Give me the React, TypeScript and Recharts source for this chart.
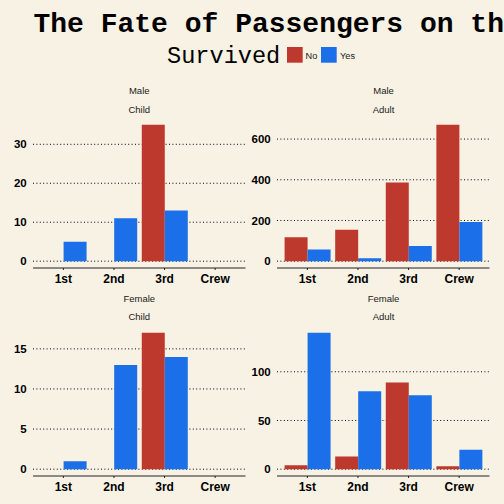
import React from 'react';
import { BarChart, Bar, XAxis, YAxis, CartesianGrid } from 'recharts';

const classes = ['1st', '2nd', '3rd', 'Crew'];
const survivedLabels = ['No', 'Yes'];
const survivedColors = ['#BE392D', '#1B6FE8'];

const maleChildNo = [0, 0, 35, 0];
const maleChildYes = [5, 11, 13, 0];
const maleAdultNo = [118, 154, 387, 670];
const maleAdultYes = [57, 14, 75, 192];
const femaleChildNo = [0, 0, 17, 0];
const femaleChildYes = [1, 13, 14, 0];
const femaleAdultNo = [4, 13, 89, 3];
const femaleAdultYes = [140, 80, 76, 20];

const maleChildTicks = [0, 10, 20, 30];
const maleAdultTicks = [0, 200, 400, 600];
const femaleChildTicks = [0, 5, 10, 15];
const femaleAdultTicks = [0, 50, 100];

const BG = '#F8F2E4';
const SANS = '"Liberation Sans", Arial, Helvetica, sans-serif';
const MONO = '"Liberation Mono", "Courier New", monospace';

const PLOT_W = 212.5;
const PLOT_H = 150;
const Y_AXIS_W = 33;
const X_AXIS_H = 25;

const buildRows = (no: number[], yes: number[]) =>
  classes.map((c, i) => ({ cls: c, No: no[i], Yes: yes[i] }));

// ggplot style 5% expansion of the y range
const expanded = (no: number[], yes: number[]): [number, number] => {
  const max = Math.max(...no, ...yes);
  return [-max * 0.05, max * 1.05];
};

interface PanelProps {
  left: number;
  top: number;
  no: number[];
  yes: number[];
  ticks: number[];
}

const Panel: React.FC<PanelProps> = ({ left, top, no, yes, ticks }) => {
  const data = buildRows(no, yes);
  const band = PLOT_W / 4.2;
  const [lo, hi] = expanded(no, yes);
  // grid rows at the tick values only
  const gridY = ticks.map((t) => (PLOT_H * (hi - t)) / (hi - lo));
  return (
    <div style={{ position: 'absolute', left, top }}>
      <BarChart
        width={Y_AXIS_W + PLOT_W}
        height={PLOT_H + X_AXIS_H}
        data={data}
        margin={{ top: 0, right: 0, bottom: 0, left: 0 }}
        barCategoryGap="5%"
        barGap={0}
      >
        <CartesianGrid
          vertical={false}
          horizontalPoints={gridY}
          stroke="#000"
          strokeWidth={1}
          strokeDasharray="1 2.4"
        />
        <XAxis
          dataKey="cls"
          height={X_AXIS_H}
          padding={{ left: band * 0.1, right: band * 0.1 }}
          axisLine={{ stroke: '#222', strokeWidth: 1 }}
          tickLine={{ stroke: '#222' }}
          tickSize={2}
          tickMargin={4.7}
          tick={{ fill: '#000', fontSize: 12, fontWeight: 'bold', fontFamily: SANS }}
        />
        <YAxis
          type="number"
          width={Y_AXIS_W}
          domain={[lo, hi]}
          allowDataOverflow
          ticks={ticks}
          axisLine={false}
          tickLine={false}
          tickSize={0}
          tickMargin={6.3}
          tick={{ fill: '#000', fontSize: 11.5, fontWeight: 'bold', fontFamily: SANS }}
        />
        {survivedLabels.map((s, i) => (
          <Bar key={s} dataKey={s} fill={survivedColors[i]} isAnimationActive={false} />
        ))}
      </BarChart>
    </div>
  );
};

const stripText = (x: number, y: number, label: string) => (
  <text x={x} y={y} textAnchor="middle" fontFamily={SANS} fontSize={9.5} fill="#1a1a1a">
    {label}
  </text>
);

const App: React.FC = () => {
  const leftCenter = Y_AXIS_W + PLOT_W / 2;
  const rightCenter = 244.3 + Y_AXIS_W + PLOT_W / 2;
  return (
    <div
      style={{
        position: 'absolute',
        left: 0,
        top: 0,
        width: 504,
        height: 504,
        background: BG,
        overflow: 'hidden',
      }}
    >
      <svg width={504} height={504} style={{ position: 'absolute', left: 0, top: 0 }}>
        <text x={33.5} y={32.3} fontFamily={MONO} fontWeight="bold" fontSize={28} fill="#000">
          The Fate of Passengers on the Titanic
        </text>
        <text x={167} y={63.3} fontFamily={MONO} fontSize={23.6} fill="#000">
          Survived
        </text>
        {survivedLabels.map((s, i) => (
          <g key={s}>
            <rect x={287 + i * 34} y={47} width={15.7} height={15.7} fill={survivedColors[i]} />
            <text x={305.5 + i * 34.5} y={59.3} fontFamily={SANS} fontSize={9.2} fill="#1a1a1a">
              {s}
            </text>
          </g>
        ))}
        {stripText(leftCenter, 94, 'Male')}
        {stripText(leftCenter, 113, 'Child')}
        {stripText(rightCenter, 94, 'Male')}
        {stripText(rightCenter, 113, 'Adult')}
        {stripText(leftCenter, 302.3, 'Female')}
        {stripText(leftCenter, 320, 'Child')}
        {stripText(rightCenter, 302.3, 'Female')}
        {stripText(rightCenter, 320, 'Adult')}
      </svg>
      <Panel left={0} top={118} no={maleChildNo} yes={maleChildYes} ticks={maleChildTicks} />
      <Panel left={244.3} top={118} no={maleAdultNo} yes={maleAdultYes} ticks={maleAdultTicks} />
      <Panel left={0} top={325.7} no={femaleChildNo} yes={femaleChildYes} ticks={femaleChildTicks} />
      <Panel left={244.3} top={325.7} no={femaleAdultNo} yes={femaleAdultYes} ticks={femaleAdultTicks} />
    </div>
  );
};

export default App;
